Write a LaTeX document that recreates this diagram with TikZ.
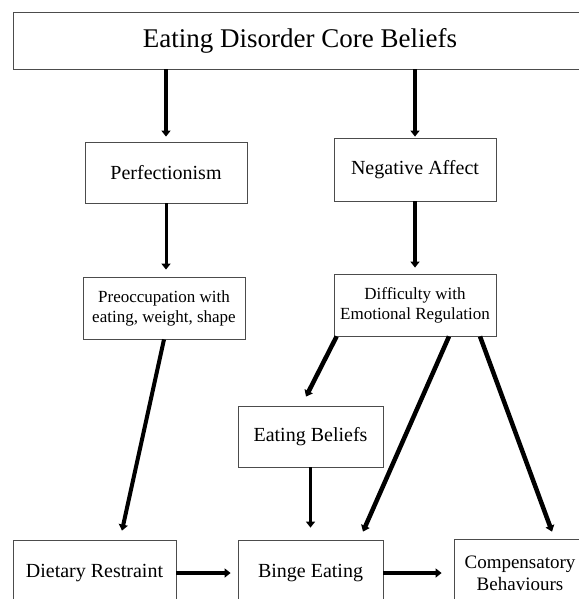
\documentclass[tikz,border=0pt]{standalone}
\usepackage{fontspec}
\setmainfont{Liberation Serif}
\usetikzlibrary{arrows.meta}

\begin{document}
\begin{tikzpicture}[x=1pt,y=1pt,
  box/.style={draw=black!70,line width=0.8pt,inner sep=0pt,align=center},
  big/.style={font=\fontsize{20}{24}\selectfont},
  small/.style={font=\fontsize{17}{20}\selectfont},
  arr/.style={line width=3.5pt,-{Triangle[width=9pt,length=6pt]}}]
  \useasboundingbox (0,0) rectangle (578,-599);
  % boxes
  \node[box,minimum width=574pt,minimum height=57pt,font=\fontsize{27}{32}\selectfont] (core) at (300,-40.5) {Eating Disorder Core Beliefs};
  \node[box,big,minimum width=162pt,minimum height=61pt] (perf) at (166,-172.5) {Perfectionism};
  \node[box,big,minimum width=162pt,minimum height=63pt] (neg) at (415,-169.5) {Negative Affect};
  \node[box,small,minimum width=162pt,minimum height=62pt] (preocc) at (164,-308) {Preoccupation with\\eating, weight, shape};
  \node[box,small,minimum width=162pt,minimum height=62pt] (diff) at (415,-305) {Difficulty with\\Emotional Regulation};
  \node[box,big,minimum width=145pt,minimum height=61pt] (eb) at (310.5,-436.5) {Eating Beliefs};
  \node[box,big,minimum width=163pt,minimum height=66pt] (dr) at (94.5,-573) {Dietary Restraint};
  \node[box,big,minimum width=145pt,minimum height=66pt] (binge) at (310.5,-573) {Binge Eating};
  \node[box,font=\fontsize{19}{22}\selectfont,minimum width=132pt,minimum height=68pt] (comp) at (520,-573) {Compensatory\\Behaviours};
  % arrows
  \draw[arr] (perf.north |- core.south) -- ([yshift=5pt]perf.north);
  \draw[arr] (neg.north |- core.south) -- ([yshift=1pt]neg.north);
  \draw[arr,line width=3pt,shorten >=7pt] (perf.south) -- (perf.south |- preocc.north);
  \draw[arr,shorten >=6pt] (neg.south) -- (neg.south |- diff.north);
  \draw[arr,line width=4.5pt] ([xshift=3pt]diff.south west) -- ([xshift=-4.5pt,yshift=9pt]eb.north);
  \draw[arr,line width=4pt] (preocc.south) -- ([xshift=27.5pt,yshift=9pt]dr.north);
  \draw[arr,line width=4.5pt] ([xshift=34pt]diff.south) -- ([xshift=52.5pt,yshift=8pt]binge.north);
  \draw[arr,line width=4.5pt] ([xshift=65pt]diff.south) -- ([xshift=32pt,yshift=7pt]comp.north);
  \draw[arr,line width=3pt,shorten >=12pt] (eb.south) -- (eb.south |- binge.north);
  \draw[arr,line width=4pt,shorten >=7pt] (dr.east) -- (binge.west);
  \draw[arr,line width=4pt,shorten >=12pt] (binge.east) -- (comp.west);
\end{tikzpicture}
\end{document}
